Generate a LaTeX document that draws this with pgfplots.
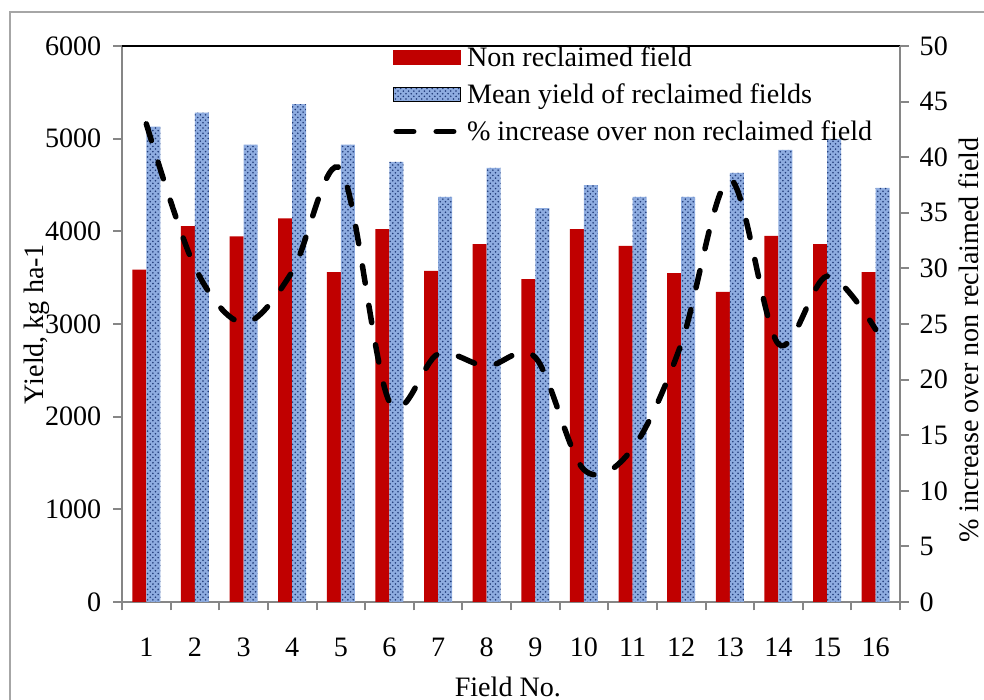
\documentclass[border=0pt]{standalone}
\usepackage{fontspec}
\setmainfont{Liberation Serif}
\usepackage{pgfplots}
\pgfplotsset{compat=1.18}
\usetikzlibrary{patterns}
\definecolor{redbar}{HTML}{C00000}
\definecolor{bluebar}{HTML}{8EACE0}
\definecolor{navy}{HTML}{1F3A78}
\definecolor{axgray}{HTML}{868686}
\definecolor{framegray}{HTML}{A6A6A6}
\begin{document}
\begin{tikzpicture}
\clip (0cm,0cm) rectangle (19.68cm,14cm);
\draw[framegray, line width=0.04cm] (0.2cm,-0.5cm) -- (0.2cm,13.76cm) -- (20cm,13.76cm);
\begin{axis}[
  at={(2.44cm,1.96cm)}, anchor=south west,
  width=15.56cm, height=11.12cm, scale only axis,
  xmin=0.5, xmax=16.5, ymin=0, ymax=6000,
  axis x line*=bottom, axis y line*=left,
  axis line style={axgray, line width=0.04cm},
  ytick={0,1000,...,6000},
  xtick={0.5,1.5,...,16.5},
  x tick label as interval,
  xticklabels={1,2,3,4,5,6,7,8,9,10,11,12,13,14,15,16},
  tick align=outside, major tick length=0.17cm,
  tick style={axgray, line width=0.04cm},
  ybar=0pt, bar width=0.28cm,
  font=\fontsize{16}{19}\selectfont,
  /pgf/number format/assume math mode=true,
  /pgf/number format/1000 sep={},
  yticklabel style={xshift=-0.12cm},
  xticklabel style={yshift=-0.42cm},
  xlabel={Field No.},
  xlabel style={at={(axis description cs:0.496,-0.152)}, anchor=center},
  ylabel={Yield, kg ha-1},
  ylabel style={at={(axis description cs:-0.109,0.5)}, anchor=center},
  clip=false,
]
\addplot[draw=none, fill=redbar] coordinates {
(1,3588) (2,4055) (3,3945) (4,4140) (5,3560) (6,4024) (7,3572) (8,3862)
(9,3484) (10,4024) (11,3842) (12,3550) (13,3348) (14,3952) (15,3862) (16,3560)};
\addplot[draw=none, fill=bluebar, postaction={pattern=crosshatch dots, pattern color=navy}] coordinates {
(1,5129) (2,5280) (3,4935) (4,5372) (5,4935) (6,4750) (7,4372) (8,4684)
(9,4250) (10,4500) (11,4372) (12,4372) (13,4630) (14,4880) (15,4998) (16,4470)};
\draw[black, line width=0.04cm] (rel axis cs:0,1) -- (rel axis cs:1,1);
\end{axis}
\begin{axis}[
  at={(2.44cm,1.96cm)}, anchor=south west,
  width=15.56cm, height=11.12cm, scale only axis,
  xmin=0.5, xmax=16.5, ymin=0, ymax=50,
  axis y line*=right, axis x line=none,
  axis line style={axgray, line width=0.04cm},
  ytick={0,5,...,50},
  tick align=outside, major tick length=0.17cm,
  tick style={axgray, line width=0.04cm},
  font=\fontsize{16}{19}\selectfont,
  /pgf/number format/assume math mode=true,
  yticklabel style={xshift=0.1cm},
  ylabel={\% increase over non reclaimed field},
  ylabel style={at={(axis description cs:1.0885,0.471)}, anchor=center},
  legend style={at={(axis description cs:0.3416,1.0126)}, anchor=north west,
    draw=none, fill=none, font=\fontsize{16}{19}\selectfont, row sep=0.15cm},
  legend cell align=left,
  clip=false,
]
\addlegendimage{legend image code/.code={\fill[redbar] (0cm,-0.14cm) rectangle (1.34cm,0.14cm);}}
\addlegendentry{Non reclaimed field}
\addlegendimage{legend image code/.code={\fill[bluebar] (0cm,-0.14cm) rectangle (1.34cm,0.14cm);
  \fill[pattern=crosshatch dots, pattern color=navy] (0cm,-0.14cm) rectangle (1.34cm,0.14cm);}}
\addlegendentry{Mean yield of reclaimed fields}
\addplot[black, line width=0.11cm, line cap=round, dash pattern=on 0.35cm off 0.45cm, smooth, tension=0.55,
  legend image code/.code={\draw[black, line width=0.11cm, line cap=round, dash pattern=on 0.35cm off 0.45cm] (0.05cm,0cm) -- (1.34cm,0cm);}]
coordinates {
(1,43.0) (2,30.1) (3,25.1) (4,29.7) (5,38.9) (6,18.0) (7,22.3) (8,21.2)
(9,22.0) (10,11.9) (11,13.8) (12,23.2) (13,38.0) (14,23.2) (15,29.3) (16,24.5)};
\addlegendentry{\% increase over non reclaimed field}
\end{axis}
\end{tikzpicture}
\end{document}
